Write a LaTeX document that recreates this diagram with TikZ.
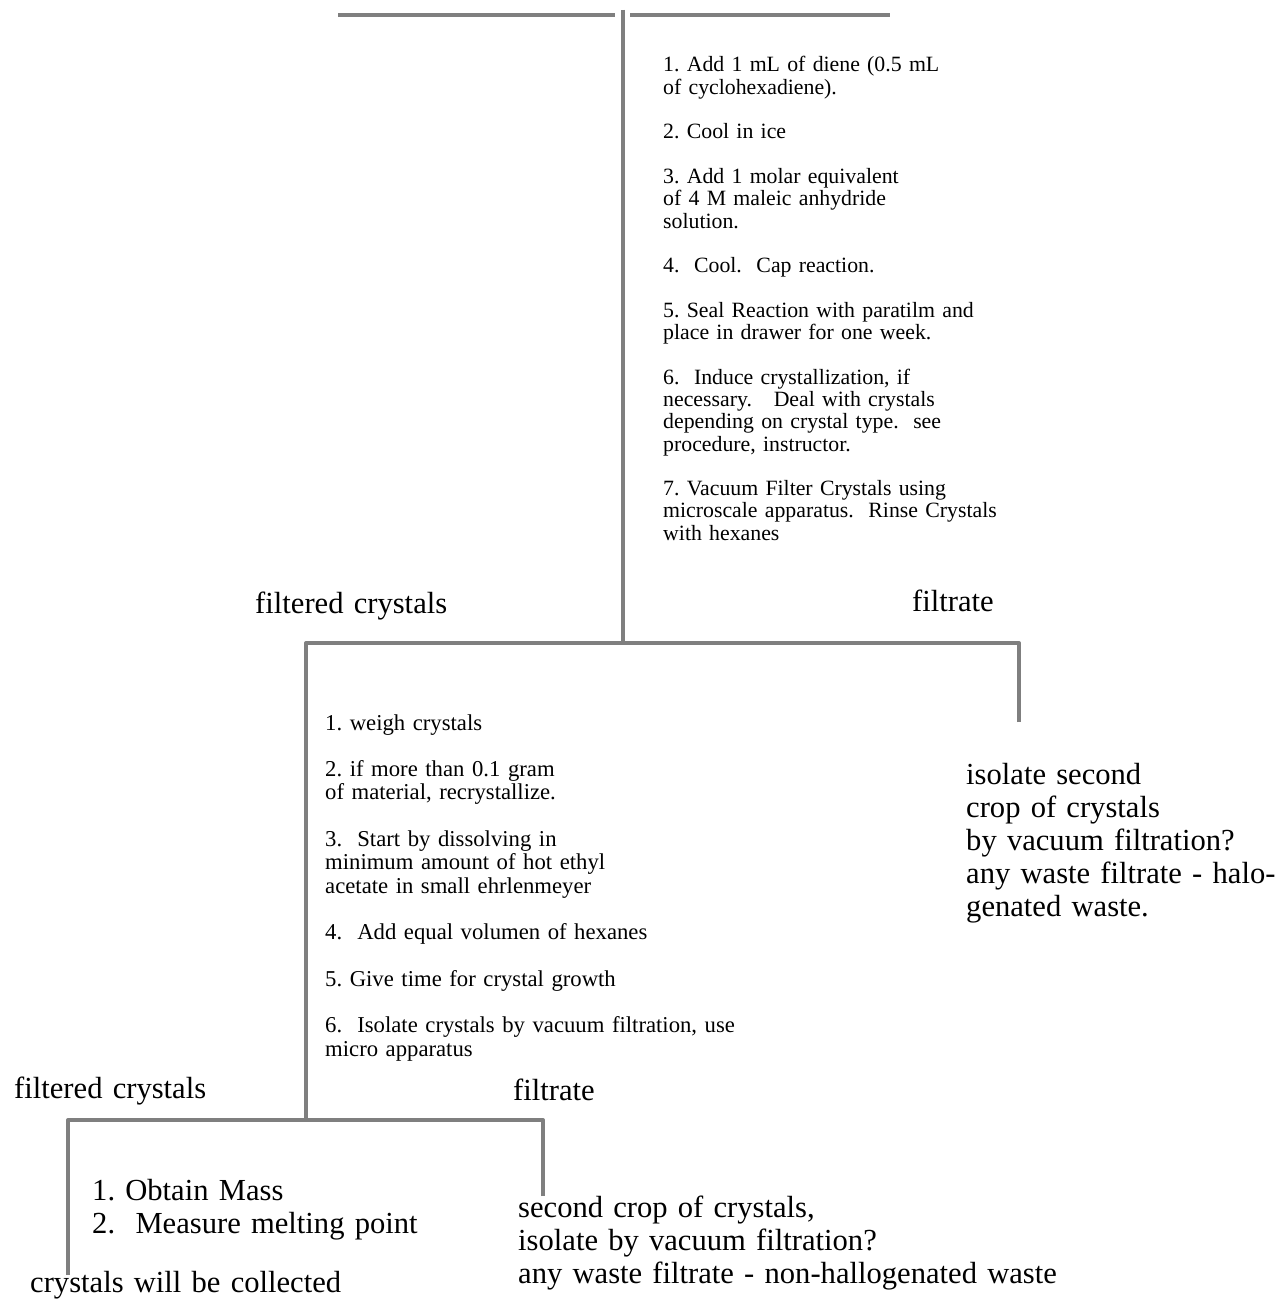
\documentclass[tikz,border=0pt]{standalone}
\usepackage{fontspec}
\setmainfont{Liberation Serif}
\definecolor{linegray}{HTML}{7F7F7F}
\lineskiplimit=-50pt
\begin{document}
\frenchspacing
\begin{tikzpicture}[x=1pt,y=-1pt,
  line/.style={draw=linegray, line width=4pt, line join=round},
  smallA/.style={anchor=base west, inner sep=0, text width=420pt, align=left,
    font=\fontsize{21.8}{22.3}\selectfont},
  smallB/.style={anchor=base west, inner sep=0, text width=460pt, align=left,
    font=\fontsize{22.7}{23.3}\selectfont},
  big/.style={anchor=base west, inner sep=0, text width=600pt, align=left,
    font=\fontsize{30.6}{33}\selectfont}]
\useasboundingbox[fill=white] (0,0) rectangle (1275,1300);

% junction coordinates
\coordinate (hLa) at (338,15);
\coordinate (hLb) at (615,15);
\coordinate (hRa) at (630,15);
\coordinate (hRb) at (890,15);
\coordinate (t0) at (623,10);
\coordinate (t1) at (623,643);
\coordinate (aL) at (306,643);
\coordinate (aR) at (1019,643);
\coordinate (aRend) at (1019,722);
\coordinate (aLend) at (306,1120);
\coordinate (bL) at (68,1120);
\coordinate (bR) at (543,1120);
\coordinate (bRend) at (543,1196);
\coordinate (bLend) at (68,1275);

% connectors
\draw[line] (hLa) -- (hLb);
\draw[line] (hRa) -- (hRb);
\draw[line] (t0) -- (t1);
\draw[line] (aRend) -- (aR) -- (aL) -- (aLend);
\draw[line] (bRend) -- (bR) -- (bL) -- (bLend);

% texts
\node[smallA] (steps1) at (663,72) {1. Add 1 mL of diene (0.5 mL\\
of cyclohexadiene).\\[22.3pt]
2. Cool in ice\\[22.3pt]
3. Add 1 molar equivalent\\
of 4 M maleic anhydride\\
solution.\\[22.3pt]
4.\ \ Cool.\ \ Cap reaction.\\[22.3pt]
5. Seal Reaction with paratilm and\\
place in drawer for one week.\\[22.3pt]
6.\ \ Induce crystallization, if\\
necessary.\ \ \ Deal with crystals\\
depending on crystal type.\ \ see\\
procedure, instructor.\\[22.3pt]
7. Vacuum Filter Crystals using\\
microscale apparatus.\ \ Rinse Crystals\\
with hexanes};

\node[big] (fc1) at (255,613) {filtered crystals};
\node[big] (fl1) at (912,611) {filtrate};

\node[smallB] (steps2) at (325,730) {1. weigh crystals\\[23.3pt]
2. if more than 0.1 gram\\
of material, recrystallize.\\[23.3pt]
3.\ \ Start by dissolving in\\
minimum amount of hot ethyl\\
acetate in small ehrlenmeyer\\[23.3pt]
4.\ \ Add equal volumen of hexanes\\[23.3pt]
5. Give time for crystal growth\\[23.3pt]
6.\ \ Isolate crystals by vacuum filtration, use\\
micro apparatus};

\node[big] (second1) at (966,784) {isolate second\\
crop of crystals\\
by vacuum filtration?\\
any waste filtrate - halo-\\
genated waste.};

\node[big] (fc2) at (14,1098) {filtered crystals};
\node[big] (fl2) at (513,1100) {filtrate};

\node[big] (mass) at (92,1200) {1. Obtain Mass\\
2.\ \ Measure melting point};

\node[big] (collect) at (30,1292) {crystals will be collected};

\node[big] (second2) at (518,1217) {second crop of crystals,\\
isolate by vacuum filtration?\\
any waste filtrate - non-hallogenated waste};
\end{tikzpicture}
\end{document}
